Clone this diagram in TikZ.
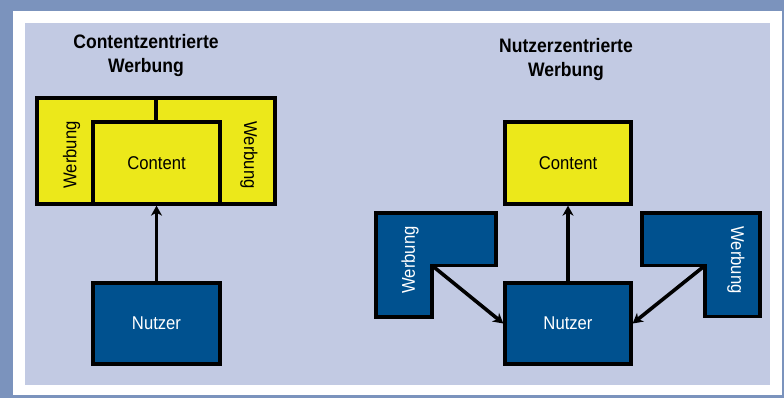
\documentclass[tikz,border=0pt]{standalone}
\usepackage{fontspec}
\setmainfont{Liberation Sans}[FakeStretch=0.9]
\usetikzlibrary{arrows.meta}
\definecolor{frameblue}{HTML}{7B93BD}
\definecolor{panelblue}{HTML}{C2CAE3}
\definecolor{boxyellow}{HTML}{ECE81A}
\definecolor{boxblue}{HTML}{00518F}
\tikzset{
  ybox/.style={draw=black, line width=3.3pt, fill=boxyellow, inner sep=0pt,
    font=\fontsize{18.5}{22}\selectfont, text=black},
  bbox/.style={draw=black, line width=3.3pt, fill=boxblue, inner sep=0pt,
    font=\fontsize{18.5}{22}\selectfont, text=white},
  lshape/.style={draw=black, line width=3.3pt, fill=boxblue, line join=miter},
  wtext/.style={inner sep=0pt, font=\fontsize{18.5}{22}\selectfont},
  ttl/.style={align=center, inner sep=0pt, font=\bfseries\fontsize{19.5}{24}\selectfont},
  arr/.style={line width=3.6pt, -{Stealth[length=10pt,width=11pt,inset=3pt]}}
}
\begin{document}
\begin{tikzpicture}[x=1pt,y=-1pt]
\useasboundingbox (0,0) rectangle (784,398);
\fill[frameblue] (0,0) rectangle (784,398);
\fill[white] (13,11) rectangle (782,395);
\fill[panelblue] (25,23) rectangle (770,385);

% ---------- left: Contentzentrierte Werbung ----------
\node[ttl] (t1) at (146,56) {Contentzentrierte\\Werbung};
\node[ybox, minimum width=238pt, minimum height=106pt] (yw) at (156,151) {};
\draw[line width=3.3pt] (156,98) -- (156,122);
\node[ybox, minimum width=127pt, minimum height=82pt] (c1) at (156.5,163) {Content};
\node[wtext, rotate=90] (w1) at (71.5,155) {Werbung};
\node[wtext, rotate=-90] (w2) at (249,155) {Werbung};
\node[bbox, minimum width=127pt, minimum height=81pt] (n1) at (156.5,323.5) {Nutzer};
\draw[arr] (n1) -- (c1);

% ---------- right: Nutzerzentrierte Werbung ----------
\node[ttl] (t2) at (566,59.3) {Nutzerzentrierte\\Werbung};
\node[ybox, minimum width=126pt, minimum height=82pt] (c2) at (568,163) {Content};
\node[bbox, minimum width=126pt, minimum height=81pt] (n2) at (568,323.5) {Nutzer};
\draw[lshape] (376,213) -- (496,213) -- (496,265.5) -- (432,265.5) -- (432,317) -- (376,317) -- cycle;
\draw[lshape] (642,213) -- (760,213) -- (760,316.5) -- (705,316.5) -- (705,265.5) -- (642,265.5) -- cycle;
\coordinate (lc) at (432,265.5);
\coordinate (rc) at (705,265.5);
\node[wtext, rotate=90, text=white] (w3) at (410,260) {Werbung};
\node[wtext, rotate=-90, text=white] (w4) at (736,260) {Werbung};
\draw[arr] (n2) -- (c2);
\draw[arr] (lc) -- (n2.west);
\draw[arr] (rc) -- (n2.east);
\end{tikzpicture}
\end{document}
